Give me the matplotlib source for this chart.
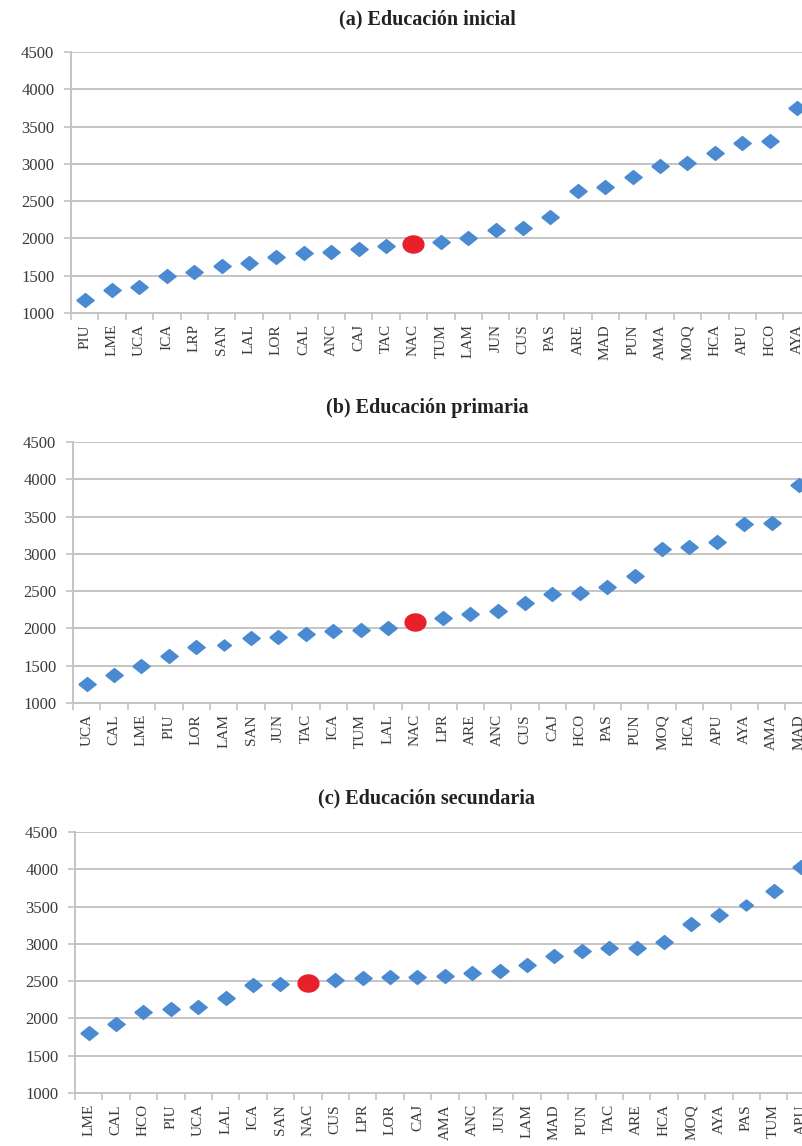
import matplotlib
matplotlib.use("Agg")
import matplotlib.pyplot as plt
import numpy as np

# ---------------- data ----------------
cats_a = ["PIU", "LME", "UCA", "ICA", "LRP", "SAN", "LAL", "LOR", "CAL", "ANC", "CAJ", "TAC", "NAC",
          "TUM", "LAM", "JUN", "CUS", "PAS", "ARE", "MAD", "PUN", "AMA", "MOQ", "HCA", "APU", "HCO", "AYA"]
vals_a = [1175, 1308, 1345, 1496, 1554, 1630, 1666, 1747, 1800, 1822, 1854, 1898, 1925,
          1947, 2010, 2113, 2135, 2287, 2636, 2694, 2820, 2971, 3007, 3146, 3284, 3302, 3745]

cats_b = ["UCA", "CAL", "LME", "PIU", "LOR", "LAM", "SAN", "JUN", "TAC", "ICA", "TUM", "LAL", "NAC",
          "LPR", "ARE", "ANC", "CUS", "CAJ", "HCO", "PAS", "PUN", "MOQ", "HCA", "APU", "AYA", "AMA", "MAD"]
vals_b = [1255, 1375, 1491, 1625, 1746, 1772, 1872, 1885, 1929, 1960, 1983, 2010, 2081,
          2144, 2193, 2228, 2341, 2462, 2475, 2560, 2707, 3060, 3092, 3163, 3404, 3409, 3927]

cats_c = ["LME", "CAL", "HCO", "PIU", "UCA", "LAL", "ICA", "SAN", "NAC", "CUS", "LPR", "LOR", "CAJ",
          "AMA", "ANC", "JUN", "LAM", "MAD", "PUN", "TAC", "ARE", "HCA", "MOQ", "AYA", "PAS", "TUM", "APU"]
vals_c = [1802, 1923, 2083, 2131, 2154, 2275, 2448, 2458, 2471, 2515, 2546, 2551, 2555,
          2569, 2609, 2640, 2720, 2840, 2907, 2939, 2947, 3024, 3268, 3388, 3522, 3709, 4030]

titles = ["(a) Educación inicial", "(b) Educación primaria", "(c) Educación secundaria"]
highlight = "NAC"
small_marker = [[], ["LAM"], ["PAS"]]
yticks = [1000, 1500, 2000, 2500, 3000, 3500, 4000, 4500]

# ---------------- style ----------------
W, H = 803, 1146
fig = plt.figure(figsize=(W / 100, H / 100), dpi=100)
plt.rcParams['font.family'] = ['Liberation Serif', 'DejaVu Serif']

blue = "#4a8ad2"
red = "#e8202a"
grid_c = "#c4c4c4"
txt_c = "#3a3a3a"

diamond = [(-1, 0), (0, 0.8), (1, 0), (0, -0.8), (-1, 0)]
t = np.linspace(0, 2 * np.pi, 40)
ellipse = list(zip(np.cos(t), 0.82 * np.sin(t)))

# pixel layout: (axes left px, axes top px, axes bottom px, title y px)
layout = [(71, 52, 313, 18), (73, 442, 703, 407), (75, 832, 1093, 797)]
step = 27.4

for k, (cats, vals, title) in enumerate(zip([cats_a, cats_b, cats_c],
                                            [vals_a, vals_b, vals_c], titles)):
    lp, tp, bp, ty = layout[k]
    n = len(cats)
    ax = fig.add_axes([lp / W, 1 - bp / H, n * step / W, (bp - tp) / H])
    ax.set_xlim(0, n)
    ax.set_ylim(1000, 4500)
    x = np.arange(n) + 0.5
    for i, (c, v) in enumerate(zip(cats, vals)):
        if c == highlight:
            ax.plot(x[i], v, marker=ellipse, ms=15, color=red, mec=red, ls="none", zorder=4)
        elif c in small_marker[k]:
            ax.plot(x[i], v, marker=diamond, ms=10, color=blue, mec=blue, ls="none", zorder=3)
        else:
            ax.plot(x[i], v, marker=diamond, ms=12.5, color=blue, mec=blue, ls="none", zorder=3)

    ax.set_yticks(yticks)
    ax.set_yticklabels([str(v) for v in yticks], fontsize=12, color=txt_c)
    ax.set_xticks(x)
    ax.set_xticklabels(cats, rotation=90, fontsize=11, color=txt_c)
    ax.set_xticks(np.arange(0, n + 1), minor=True)
    ax.tick_params(axis="x", which="major", length=0, pad=8)
    ax.tick_params(axis="x", which="minor", length=5, color=grid_c, width=1.2)
    ax.tick_params(axis="y", length=5, color=grid_c, width=1.2, pad=7)
    ax.grid(axis="y", color=grid_c, lw=1.4)
    ax.set_axisbelow(True)
    for s in ["top", "right"]:
        ax.spines[s].set_visible(False)
    for s in ["left", "bottom"]:
        ax.spines[s].set_color(grid_c)
        ax.spines[s].set_linewidth(1.4)
    fig.text(427 / W, 1 - (ty + 1) / H, title, ha="center", va="center",
             fontsize=14.5, fontweight="bold", color="#222222")

fig.savefig("out.png", dpi=100)
